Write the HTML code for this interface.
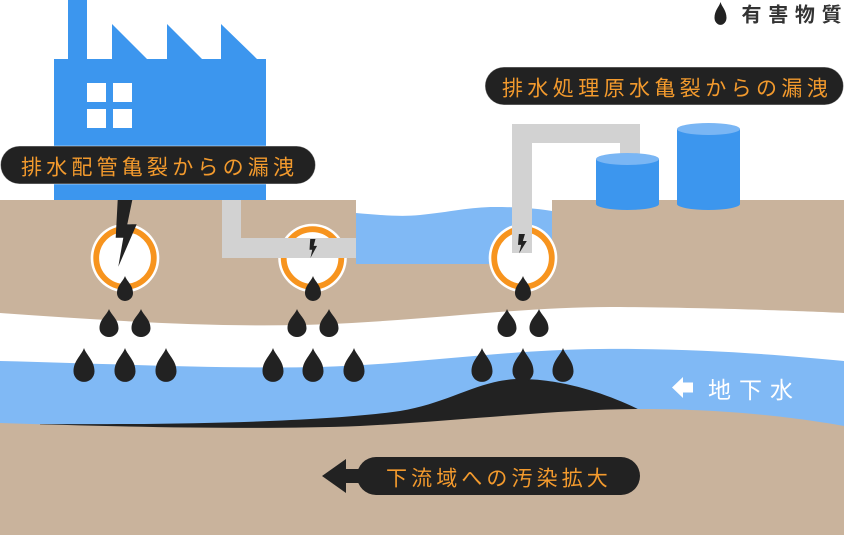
<!DOCTYPE html>
<html><head><meta charset="utf-8">
<style>
html,body{margin:0;padding:0;background:#fff;}
body{width:844px;height:535px;overflow:hidden;}
svg{display:block;}
text{font-family:"Liberation Sans","Noto Sans CJK JP",sans-serif;}
</style></head>
<body>
<svg width="844" height="535" viewBox="0 0 844 535" xmlns="http://www.w3.org/2000/svg">
<defs>
<path id="drop" d="M0,0 C0.12,0.35 0.5,0.6 0.5,1.1 A0.5,0.5 0 0 1 -0.5,1.1 C-0.5,0.6 -0.12,0.35 0,0 Z"/>
<polygon id="bolt" points="2,0 16.6,0 11.6,24.3 21,24.3 2.6,66.7 7.6,37.7 0,37.7"/>
</defs>
<rect width="844" height="535" fill="#fff"/>

<!-- ground -->
<path d="M0,200 L356,200 L356,263 L552,263 L552,200 L844,200 L844,535 L0,535 Z" fill="#c9b39c"/>
<!-- pond -->
<path d="M356,213 C380,215 400,217 420,215 C450,212 470,207 495,207 C520,207 540,209 552,211 L552,264 L356,264 Z" fill="#80b9f5"/>

<!-- white band -->
<path d="M0,313 C100,320 200,327 300,325 C420,322 520,306 620,307 C720,308 800,311 844,313 L844,440 L0,440 Z" fill="#fff"/>
<!-- groundwater -->
<path d="M0,361 C120,364 220,369 320,367 C420,364 500,350 600,349 C700,348 780,355 844,361 L844,440 L0,440 Z" fill="#80b9f5"/>
<!-- plume -->
<path d="M40,424 C200,425 330,421 400,411 C450,403 480,379 520,379 C565,379 610,395 642,411 L642,440 L40,440 Z" fill="#222"/>
<!-- lower ground -->
<path d="M0,423 C120,427 260,430 360,426 C460,421 560,409 642,409 C730,409 800,418 844,426 L844,535 L0,535 Z" fill="#c9b39c"/>

<!-- factory -->
<path d="M68,0 L87,0 L87,59 L112,59 L112,24 L147,59 L167,59 L167,24 L202,59 L221,59 L221,24 L257,59 L266,59 L266,200 L54,200 L54,59 L68,59 Z" fill="#3c96ee"/>
<rect x="87" y="83" width="19" height="19" fill="#fff"/>
<rect x="113" y="83" width="19" height="19" fill="#fff"/>
<rect x="87" y="109" width="19" height="19" fill="#fff"/>
<rect x="113" y="109" width="19" height="19" fill="#fff"/>

<!-- circles -->
<g>
<circle cx="125" cy="258" r="34.3" fill="#fff"/>
<circle cx="125" cy="258" r="28.8" fill="#fff" stroke="#f7941e" stroke-width="5.8"/>
<circle cx="312.5" cy="258" r="34.3" fill="#fff"/>
<circle cx="312.5" cy="258" r="28.8" fill="#fff" stroke="#f7941e" stroke-width="5.8"/>
<circle cx="523" cy="258" r="34.3" fill="#fff"/>
<circle cx="523" cy="258" r="28.8" fill="#fff" stroke="#f7941e" stroke-width="5.8"/>
</g>

<!-- pipes -->
<rect x="222" y="200" width="19" height="58" fill="#d2d2d2"/>
<rect x="222" y="238" width="134" height="20" fill="#d2d2d2"/>
<rect x="512" y="124" width="20" height="129" fill="#d2d2d2"/>
<rect x="512" y="124" width="128" height="19" fill="#d2d2d2"/>
<rect x="620" y="124" width="20" height="36" fill="#d2d2d2"/>

<!-- tanks -->
<path d="M596,159 L659,159 L659,204 A31.5,6 0 0 1 596,204 Z" fill="#3c96ee"/>
<ellipse cx="627.5" cy="159" rx="31.5" ry="6" fill="#7ab6f4"/>
<path d="M677,129 L740,129 L740,204 A31.5,6 0 0 1 677,204 Z" fill="#3c96ee"/>
<ellipse cx="708.5" cy="129" rx="31.5" ry="6" fill="#7ab6f4"/>

<!-- bolts -->
<use href="#bolt" transform="translate(115.7,200)" fill="#222"/>
<use href="#bolt" transform="translate(309.5,239) scale(0.36,0.285)" fill="#222"/>
<use href="#bolt" transform="translate(518,234) scale(0.42,0.29)" fill="#222"/>

<!-- drops -->
<g fill="#222">
<use href="#drop" transform="translate(125,276) scale(16,15.6)"/>
<use href="#drop" transform="translate(313,276) scale(16,15.6)"/>
<use href="#drop" transform="translate(523,276) scale(16,15.6)"/>

<use href="#drop" transform="translate(109,309) scale(19,17.5)"/>
<use href="#drop" transform="translate(141,309) scale(19,17.5)"/>
<use href="#drop" transform="translate(297,309) scale(19,17.5)"/>
<use href="#drop" transform="translate(329,309) scale(19,17.5)"/>
<use href="#drop" transform="translate(507,309) scale(19,17.5)"/>
<use href="#drop" transform="translate(539,309) scale(19,17.5)"/>

<use href="#drop" transform="translate(84,348) scale(21,21.2)"/>
<use href="#drop" transform="translate(125,348) scale(21,21.2)"/>
<use href="#drop" transform="translate(166,348) scale(21,21.2)"/>
<use href="#drop" transform="translate(273,348) scale(21,21.2)"/>
<use href="#drop" transform="translate(313,348) scale(21,21.2)"/>
<use href="#drop" transform="translate(354,348) scale(21,21.2)"/>
<use href="#drop" transform="translate(482,348) scale(21,21.2)"/>
<use href="#drop" transform="translate(523,348) scale(21,21.2)"/>
<use href="#drop" transform="translate(563,348) scale(21,21.2)"/>

<use href="#drop" transform="translate(720.5,2) scale(12,14.3)"/>
</g>

<!-- labels -->
<rect x="0.5" y="146" width="315" height="38" rx="19" fill="#222" stroke="rgba(255,255,255,0.45)" stroke-width="1"/>
<text x="21" y="174.5" font-size="21" fill="#f39a2d" style="letter-spacing:4.2px">排水配管亀裂からの漏洩</text>

<rect x="485" y="67" width="358.5" height="38" rx="19" fill="#222" stroke="rgba(255,255,255,0.45)" stroke-width="1"/>
<text x="502" y="95.5" font-size="21" fill="#f39a2d" style="letter-spacing:4.4px">排水処理原水亀裂からの漏洩</text>

<!-- bottom arrow label -->
<path d="M322,476 L346,459 L346,469 L360,469 L360,483 L346,483 L346,493 Z" fill="#222"/>
<rect x="357" y="457" width="283" height="38" rx="19" fill="#222"/>
<text x="386" y="485.5" font-size="21" fill="#f39a2d" style="letter-spacing:4.1px">下流域への汚染拡大</text>

<!-- groundwater label -->
<path d="M672,387.5 L683,377 L683,382.5 L693,382.5 L693,392.5 L683,392.5 L683,398 Z" fill="#fff"/>
<text x="708" y="398" font-size="23" fill="#fff" style="letter-spacing:8px">地下水</text>

<!-- legend -->
<text x="741.5" y="21.6" font-size="20" font-weight="bold" fill="#333" style="letter-spacing:6.7px">有害物質</text>
</svg>
</body></html>
